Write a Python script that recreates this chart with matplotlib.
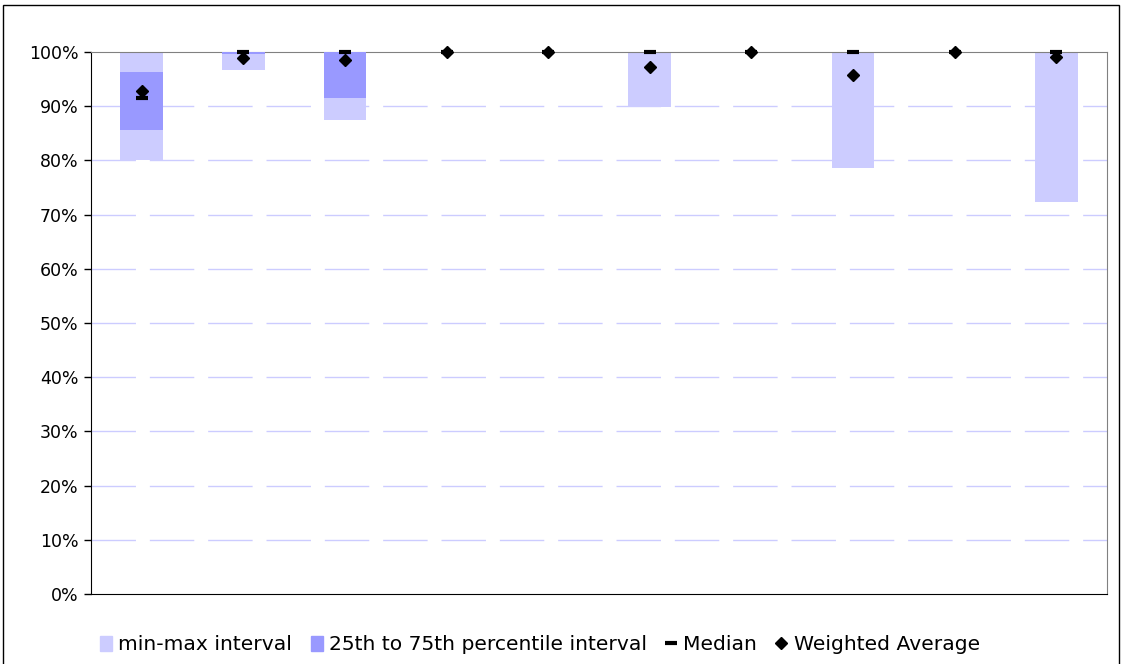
import numpy as np
import matplotlib
matplotlib.use('Agg')
from matplotlib import pyplot as plt
from matplotlib.patches import Patch, Rectangle
from matplotlib.lines import Line2D
from matplotlib.ticker import FuncFormatter, MultipleLocator

# values in %
mins = [80.0, 96.7, 87.5, 100, 100, 89.9, 100, 78.6, 100, 72.3]
maxs = [100, 100, 100, 100, 100, 100, 100, 100, 100, 100]
q1 = [85.6, 99.7, 91.5, 100, 100, 100, 100, 100, 100, 100]
q3 = [96.3, 100, 100, 100, 100, 100, 100, 100, 100, 100]
median = [91.5, 100, 100, 100, 100, 100, 100, 100, 100, 100]
w_avg = [92.8, 98.9, 98.5, 100, 100, 97.2, 100, 95.8, 100, 99.1]

light = '#ccccff'
dark = '#9999ff'

fig = plt.figure(figsize=(11.22, 6.64), dpi=100)
ax = fig.add_axes([91 / 1122, 1 - 594 / 664, (1107 - 91) / 1122, (594 - 52) / 664])

x = np.arange(len(mins))
mins_a, maxs_a = np.array(mins), np.array(maxs)
q1_a, q3_a = np.array(q1), np.array(q3)

ax.bar(x, maxs_a - mins_a, bottom=mins_a, width=0.42, color=light, zorder=2)
ax.bar(x, q3_a - q1_a, bottom=q1_a, width=0.42, color=dark, zorder=3)
ax.plot(x, median, ls='none', marker='_', ms=8.5, mew=3, color='black', zorder=4, clip_on=False)
ax.plot(x, w_avg, ls='none', marker='D', ms=6.2, color='black', zorder=5, clip_on=False)

ax.set_xlim(-0.5, len(mins) - 0.5)
ax.set_ylim(0, 100)
ax.yaxis.set_major_locator(MultipleLocator(10))
ax.yaxis.set_major_formatter(FuncFormatter(lambda v, p: '%d%%' % v))
ax.set_xticks([])
ax.tick_params(axis='y', direction='out', length=5, width=1, labelsize=12.5, pad=4)

for v in range(10, 100, 10):
    ax.axhline(v, color=light, lw=1, dashes=(32, 10), zorder=1)

ax.spines['left'].set_color('black')
ax.spines['bottom'].set_color('black')
ax.spines['top'].set_color('#808080')
ax.spines['right'].set_color('#808080')

# outer frame
fig.add_artist(Rectangle((3 / 1122, -0.01), 1116 / 1122, 1 - 5 / 664 + 0.01,
                         transform=fig.transFigure, fill=False, ec='black', lw=1))

handles = [
    Patch(color=light, label='min-max interval'),
    Patch(color=dark, label='25th to 75th percentile interval'),
    Line2D([], [], ls='none', marker='_', ms=8, mew=3, color='black', label='Median'),
    Line2D([], [], ls='none', marker='D', ms=6, color='black', label='Weighted Average'),
]
fig.legend(handles=handles, loc='center left', bbox_to_anchor=(90 / 1122, 1 - 645 / 664),
           ncol=4, frameon=False, handlelength=0.6, handleheight=0.8, handletextpad=0.3,
           columnspacing=0.9, borderpad=0, prop={'family': 'DejaVu Sans', 'size': 14.6})

fig.savefig('out.png', dpi=100)
